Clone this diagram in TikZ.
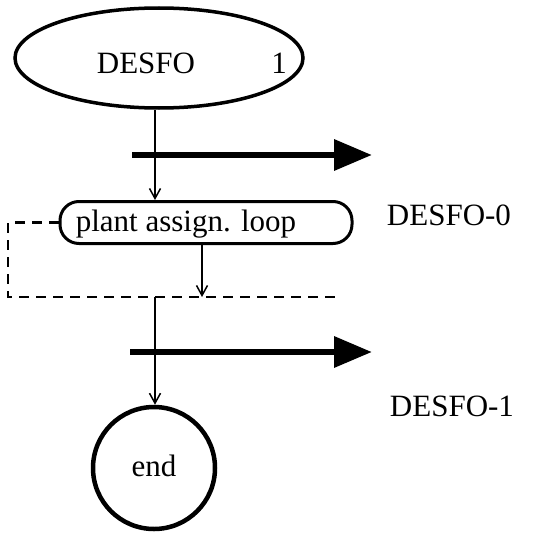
\documentclass[tikz,border=0pt]{standalone}
\usepackage{fontspec}
\setmainfont{Liberation Serif}
\usetikzlibrary{arrows.meta,shapes.geometric}
\begin{document}
\begin{tikzpicture}[x=1pt,y=-1pt,
  txt/.style={font=\fontsize{31}{36}\selectfont, inner sep=0pt},
  thinarrow/.style={line width=1.5pt, -{Straight Barb[length=10pt,width=11pt,line width=1.5pt]}},
  bigarrow/.style={line width=6.5pt, -{Triangle[length=38pt,width=30pt]}},
  dashline/.style={line width=2.5pt, dash pattern=on 10pt off 7pt}]
\useasboundingbox (0,0) rectangle (534,535);
% start ellipse
\node[ellipse, draw, line width=3.5pt, minimum width=288pt, minimum height=100pt] (start) at (159,58) {};
\node[txt] (startlbl) at (146,63) {DESFO};
\node[txt] (startnum) at (279,63) {1};
% loop box
\node[draw, rounded corners=19pt, line width=3pt, minimum width=292pt, minimum height=42pt, inner sep=0pt] (loop) at (206,222.5) {};
\node[txt] (looplbl) at (186,224) {plant assign. loop};
% end circle
\node[circle, draw, line width=4.5pt, minimum size=122pt, inner sep=0pt] (end) at (154,468) {};
\node[txt] (endlbl) at (154,466) {end};
% labels
\node[txt] (d0) at (449,215) {DESFO-0};
\node[txt] (d1) at (452,406) {DESFO-1};
% coordinates
\coordinate (a1s) at (132,155);
\coordinate (a1e) at (372,155);
\coordinate (a2s) at (130,352);
\coordinate (a2e) at (372,352);
\coordinate (dl1) at (8,222.5);
\coordinate (dl2) at (8,297);
\coordinate (dr) at (340,297);
\coordinate (joinL) at (155,297);
\coordinate (joinA) at (202,297);
% connectors
\draw[thinarrow] (start.south -| joinL) -- (loop.north -| joinL);
\draw[thinarrow] (loop.south -| joinA) -- (joinA);
\draw[thinarrow] (joinL) -- (end.north -| joinL);
\draw[dashline] (loop.west) -- (dl1) -- (dl2) -- (dr);
\draw[bigarrow] (a1s) -- (a1e);
\draw[bigarrow] (a2s) -- (a2e);
\end{tikzpicture}
\end{document}
